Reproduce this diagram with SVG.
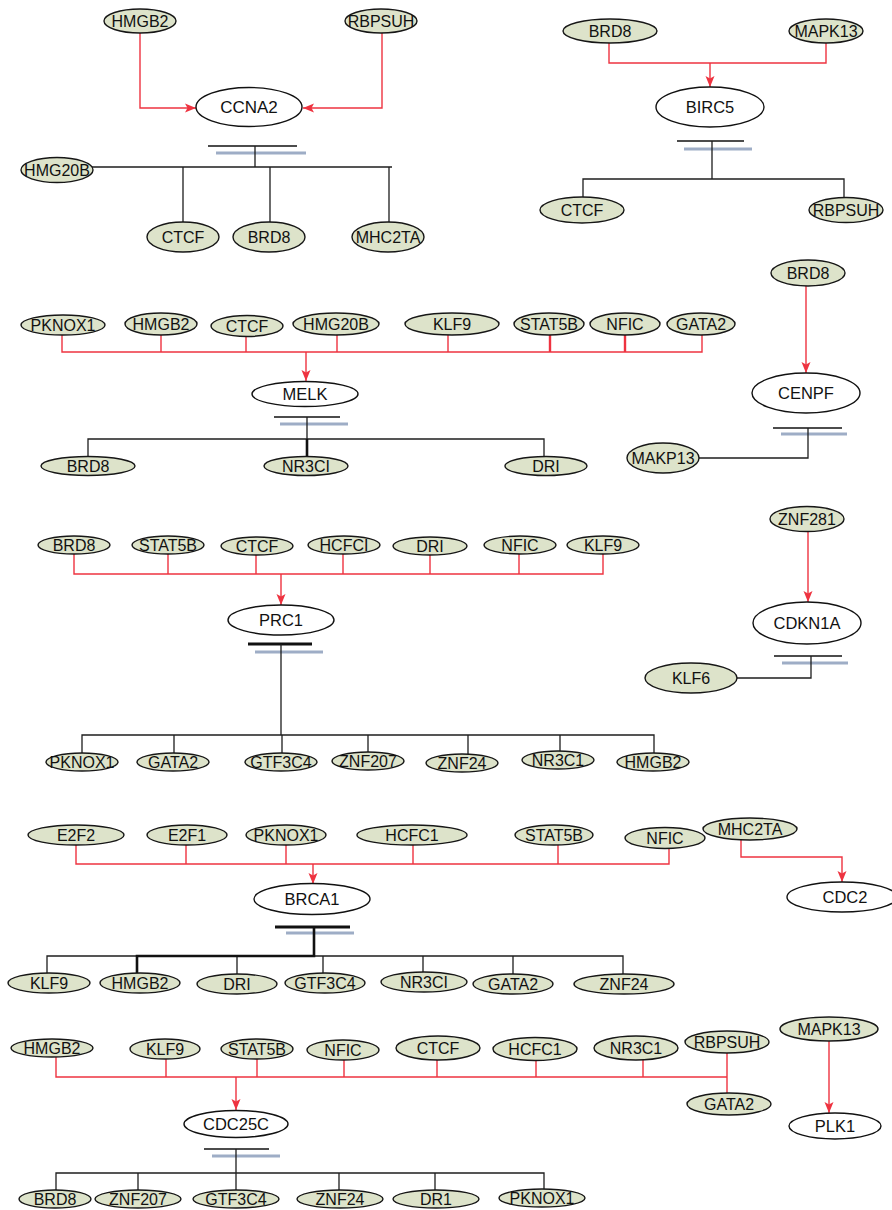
<svg xmlns="http://www.w3.org/2000/svg" width="892" height="1210" viewBox="0 0 892 1210">
  <style>
    .src ellipse { fill: #dde3ca; stroke: #161616; stroke-width: 1.4; }
    .tgt ellipse { fill: #ffffff; stroke: #111111; stroke-width: 1.4; }
    text { font-family: "Liberation Sans", Arial, sans-serif; font-size: 16px; text-anchor: middle; fill: #111111; }
    .tgt text { font-size: 16.5px; }
    .red { stroke: #ee3340; stroke-width: 1.4; fill: none; }
    .red-w { stroke: #ee3340; stroke-width: 2.4; fill: none; }
    .blk { stroke: #1e1e1e; stroke-width: 1.3; fill: none; }
    .blk-w { stroke: #111111; stroke-width: 2.6; fill: none; }
    .bar { stroke: #111111; stroke-width: 1.6; fill: none; }
    .bar-w { stroke: #111111; stroke-width: 3; fill: none; }
    .blue { stroke: #9eadc6; stroke-width: 3; fill: none; }
    .arr { marker-end: url(#arrowhead); }
  </style>
  <defs>
    <marker id="arrowhead" viewBox="0 0 11 10" refX="11" refY="5" markerWidth="11" markerHeight="10" markerUnits="userSpaceOnUse" orient="auto">
      <path d="M0,0.5 L11,5 L0,9.5 L2.5,5 Z" fill="#ee3340"/>
    </marker>
  </defs>
  <rect width="892" height="1210" fill="#ffffff"/>

  <g id="connectors">
    <!-- CCNA2 -->
    <path class="red arr" d="M140,33 V108 H196"/>
    <path class="red arr" d="M382,33 V108 H303"/>
    <path class="bar" d="M208,146 H297"/>
    <path class="blue" d="M216,153 H306"/>
    <path class="blk" d="M255,146 V167 M57,167 H392 M183,167 V222 M270,167 V222 M389,167 V222"/>

    <!-- BIRC5 -->
    <path class="red" d="M609,43 V63 H826 V43"/>
    <path class="red arr" d="M710,63 V87"/>
    <path class="bar" d="M677,141 H744"/>
    <path class="blue" d="M684,149 H752"/>
    <path class="blk" d="M712,141 V179 M583,198 V179 H844 V198"/>

    <!-- MELK -->
    <path class="red" d="M62,335 V352 H702 V335 M161,335 V352 M246,336 V352 M337,335 V352 M448,335 V352"/>
    <path class="red-w" d="M550,335 V352 M625,335 V352"/>
    <path class="red arr" d="M306,352 V381"/>
    <path class="bar" d="M274,417 H340"/>
    <path class="blue" d="M280,424 H348"/>
    <path class="blk" d="M307,417 V439 M88,457 V439 H544 V457"/>
    <path class="blk-w" d="M307,439 V457"/>

    <!-- CENPF -->
    <path class="red arr" d="M806,286 V373"/>
    <path class="bar" d="M773,428 H842"/>
    <path class="blue" d="M781,434 H847"/>
    <path class="blk" d="M808,428 V458 H699"/>

    <!-- PRC1 -->
    <path class="red" d="M74,554 V574 H603 V554 M168,554 V574 M256,555 V574 M343,554 V574 M430,555 V574 M519,554 V574"/>
    <path class="red arr" d="M281,574 V605"/>
    <path class="bar-w" d="M248,644 H312"/>
    <path class="blue" d="M255,652 H323"/>
    <path class="blk" d="M281,644 V735 M82,753 V735 H654 V753 M174,735 V753 M282,735 V753 M368,735 V752 M468,735 V754 M560,735 V751"/>

    <!-- CDKN1A -->
    <path class="red arr" d="M808,531 V602"/>
    <path class="bar" d="M774,656 H842"/>
    <path class="blue" d="M782,663 H848"/>
    <path class="blk" d="M811,656 V678 H737"/>

    <!-- BRCA1 -->
    <path class="red" d="M76,845 V864 H669 V848 M186,845 V864 M286,845 V864 M413,845 V864 M558,845 V864"/>
    <path class="red arr" d="M313,864 V884"/>
    <path class="bar-w" d="M275,927 H350"/>
    <path class="blue" d="M286,933 H354"/>
    <path class="blk" d="M47,974 V956 H623 V974 M237,956 V974 M323,956 V973 M423,956 V972 M513,956 V974"/>
    <path class="blk-w" d="M314,927 V956 H137 V973"/>

    <!-- CDC2 -->
    <path class="red arr" d="M741,840 V857 H842 V882"/>

    <!-- CDC25C -->
    <path class="red" d="M56,1057 V1077 H727 M727,1053 V1093 M166,1059 V1077 M257,1059 V1077 M344,1060 V1077 M437,1060 V1077 M536,1060 V1077 M643,1060 V1077"/>
    <path class="red arr" d="M236,1077 V1110"/>
    <path class="bar" d="M204,1149 H269"/>
    <path class="blue" d="M212,1156 H280"/>
    <path class="blk" d="M236,1149 V1190 M56,1190 V1173 H544 V1190 M138,1173 V1190 M339,1173 V1190 M435,1173 V1190"/>

    <!-- PLK1 -->
    <path class="red arr" d="M829,1041 V1113"/>
  </g>

  <!-- CCNA2 cluster -->
  <g id="ccna2-hmgb2" class="src"><ellipse cx="140" cy="21" rx="36" ry="12"/><text x="140" y="21" dy="0.35em">HMGB2</text></g>
  <g id="ccna2-rbpsuh" class="src"><ellipse cx="381" cy="21" rx="36" ry="12"/><text x="381" y="21" dy="0.35em">RBPSUH</text></g>
  <g id="ccna2" class="tgt"><ellipse cx="249" cy="107" rx="53" ry="19.5"/><text x="249" y="107" dy="0.35em" style="font-size:17px">CCNA2</text></g>
  <g id="ccna2-hmg20b" class="src"><ellipse cx="57" cy="170" rx="36" ry="12.5"/><text x="57" y="170" dy="0.35em">HMG20B</text></g>
  <g id="ccna2-ctcf" class="src"><ellipse cx="183" cy="237" rx="36" ry="15"/><text x="183" y="237" dy="0.35em">CTCF</text></g>
  <g id="ccna2-brd8" class="src"><ellipse cx="269" cy="237" rx="36" ry="15"/><text x="269" y="237" dy="0.35em">BRD8</text></g>
  <g id="ccna2-mhc2ta" class="src"><ellipse cx="388" cy="237" rx="36" ry="15"/><text x="388" y="237" dy="0.35em">MHC2TA</text></g>

  <!-- BIRC5 cluster -->
  <g id="birc5-brd8" class="src"><ellipse cx="610" cy="31" rx="47" ry="12"/><text x="610" y="31" dy="0.35em">BRD8</text></g>
  <g id="birc5-mapk13" class="src"><ellipse cx="826" cy="31" rx="37" ry="12"/><text x="826" y="31" dy="0.35em">MAPK13</text></g>
  <g id="birc5" class="tgt"><ellipse cx="710" cy="107" rx="54" ry="20"/><text x="710" y="107" dy="0.35em">BIRC5</text></g>
  <g id="birc5-ctcf" class="src"><ellipse cx="582" cy="210" rx="42" ry="13"/><text x="582" y="210" dy="0.35em">CTCF</text></g>
  <g id="birc5-rbpsuh" class="src"><ellipse cx="846" cy="210" rx="37" ry="12.5"/><text x="846" y="210" dy="0.35em">RBPSUH</text></g>

  <!-- MELK cluster -->
  <g id="melk-pknox1" class="src"><ellipse cx="63" cy="325" rx="42" ry="10"/><text x="63" y="325" dy="0.35em">PKNOX1</text></g>
  <g id="melk-hmgb2" class="src"><ellipse cx="161" cy="324" rx="36" ry="11"/><text x="161" y="324" dy="0.35em">HMGB2</text></g>
  <g id="melk-ctcf" class="src"><ellipse cx="247" cy="326" rx="36" ry="10.5"/><text x="247" y="326" dy="0.35em">CTCF</text></g>
  <g id="melk-hmg20b" class="src"><ellipse cx="336" cy="324" rx="43" ry="11"/><text x="336" y="324" dy="0.35em">HMG20B</text></g>
  <g id="melk-klf9" class="src"><ellipse cx="452" cy="324" rx="47" ry="11"/><text x="452" y="324" dy="0.35em">KLF9</text></g>
  <g id="melk-stat5b" class="src"><ellipse cx="549" cy="324" rx="35" ry="11"/><text x="549" y="324" dy="0.35em">STAT5B</text></g>
  <g id="melk-nfic" class="src"><ellipse cx="625" cy="324" rx="35" ry="11"/><text x="625" y="324" dy="0.35em">NFIC</text></g>
  <g id="melk-gata2" class="src"><ellipse cx="701" cy="324" rx="34" ry="11"/><text x="701" y="324" dy="0.35em">GATA2</text></g>
  <g id="melk" class="tgt"><ellipse cx="305" cy="394" rx="53" ry="12.5"/><text x="305" y="394" dy="0.35em">MELK</text></g>
  <g id="melk-brd8" class="src"><ellipse cx="88" cy="466" rx="47" ry="9.5"/><text x="88" y="466" dy="0.35em">BRD8</text></g>
  <g id="melk-nr3ci" class="src"><ellipse cx="306" cy="466" rx="42" ry="9.5"/><text x="306" y="466" dy="0.35em">NR3CI</text></g>
  <g id="melk-dri" class="src"><ellipse cx="546" cy="466" rx="41" ry="9.5"/><text x="546" y="466" dy="0.35em">DRI</text></g>

  <!-- CENPF cluster -->
  <g id="cenpf-brd8" class="src"><ellipse cx="808" cy="273" rx="37" ry="13"/><text x="808" y="273" dy="0.35em">BRD8</text></g>
  <g id="cenpf" class="tgt"><ellipse cx="806" cy="393" rx="54" ry="20"/><text x="806" y="393" dy="0.35em">CENPF</text></g>
  <g id="cenpf-makp13" class="src"><ellipse cx="663" cy="458" rx="36" ry="15"/><text x="663" y="458" dy="0.35em">MAKP13</text></g>

  <!-- PRC1 cluster -->
  <g id="prc1-brd8" class="src"><ellipse cx="74" cy="545" rx="36" ry="9"/><text x="74" y="545" dy="0.35em">BRD8</text></g>
  <g id="prc1-stat5b" class="src"><ellipse cx="168" cy="545" rx="36" ry="9"/><text x="168" y="545" dy="0.35em">STAT5B</text></g>
  <g id="prc1-ctcf" class="src"><ellipse cx="257" cy="546" rx="36" ry="9"/><text x="257" y="546" dy="0.35em">CTCF</text></g>
  <g id="prc1-hcfci" class="src"><ellipse cx="344" cy="545" rx="36" ry="9"/><text x="344" y="545" dy="0.35em">HCFCI</text></g>
  <g id="prc1-dri" class="src"><ellipse cx="430" cy="546" rx="37" ry="9"/><text x="430" y="546" dy="0.35em">DRI</text></g>
  <g id="prc1-nfic" class="src"><ellipse cx="520" cy="545" rx="36" ry="9"/><text x="520" y="545" dy="0.35em">NFIC</text></g>
  <g id="prc1-klf9" class="src"><ellipse cx="603" cy="545" rx="36" ry="9"/><text x="603" y="545" dy="0.35em">KLF9</text></g>
  <g id="prc1" class="tgt"><ellipse cx="281" cy="620" rx="53" ry="15"/><text x="281" y="620" dy="0.35em">PRC1</text></g>
  <g id="prc1-pknox1" class="src"><ellipse cx="82" cy="762" rx="36" ry="9"/><text x="82" y="762" dy="0.35em">PKNOX1</text></g>
  <g id="prc1-gata2" class="src"><ellipse cx="173" cy="762" rx="36" ry="9"/><text x="173" y="762" dy="0.35em">GATA2</text></g>
  <g id="prc1-gtf3c4" class="src"><ellipse cx="281" cy="762" rx="36" ry="9"/><text x="281" y="762" dy="0.35em">GTF3C4</text></g>
  <g id="prc1-znf207" class="src"><ellipse cx="368" cy="761" rx="36" ry="9"/><text x="368" y="761" dy="0.35em">ZNF207</text></g>
  <g id="prc1-znf24" class="src"><ellipse cx="462" cy="763" rx="36" ry="9"/><text x="462" y="763" dy="0.35em">ZNF24</text></g>
  <g id="prc1-nr3c1" class="src"><ellipse cx="558" cy="760" rx="36" ry="9"/><text x="558" y="760" dy="0.35em">NR3C1</text></g>
  <g id="prc1-hmgb2" class="src"><ellipse cx="653" cy="762" rx="36" ry="9"/><text x="653" y="762" dy="0.35em">HMGB2</text></g>

  <!-- CDKN1A cluster -->
  <g id="cdkn1a-znf281" class="src"><ellipse cx="807" cy="519" rx="37" ry="12.5"/><text x="807" y="519" dy="0.35em">ZNF281</text></g>
  <g id="cdkn1a" class="tgt"><ellipse cx="807" cy="623" rx="54" ry="21"/><text x="807" y="623" dy="0.35em">CDKN1A</text></g>
  <g id="cdkn1a-klf6" class="src"><ellipse cx="691" cy="678" rx="46" ry="15"/><text x="691" y="678" dy="0.35em">KLF6</text></g>

  <!-- BRCA1 cluster -->
  <g id="brca1-e2f2" class="src"><ellipse cx="76" cy="835" rx="48" ry="10"/><text x="76" y="835" dy="0.35em">E2F2</text></g>
  <g id="brca1-e2f1" class="src"><ellipse cx="187" cy="835" rx="40" ry="10"/><text x="187" y="835" dy="0.35em">E2F1</text></g>
  <g id="brca1-pknox1" class="src"><ellipse cx="286" cy="835" rx="40" ry="10"/><text x="286" y="835" dy="0.35em">PKNOX1</text></g>
  <g id="brca1-hcfc1" class="src"><ellipse cx="412" cy="835" rx="55" ry="10"/><text x="412" y="835" dy="0.35em">HCFC1</text></g>
  <g id="brca1-stat5b" class="src"><ellipse cx="554" cy="835" rx="39" ry="10"/><text x="554" y="835" dy="0.35em">STAT5B</text></g>
  <g id="brca1-nfic" class="src"><ellipse cx="665" cy="838" rx="40" ry="10.5"/><text x="665" y="838" dy="0.35em">NFIC</text></g>
  <g id="brca1" class="tgt"><ellipse cx="312" cy="899" rx="58" ry="15.5"/><text x="312" y="899" dy="0.35em">BRCA1</text></g>
  <g id="brca1-klf9" class="src"><ellipse cx="49" cy="983" rx="41" ry="10"/><text x="49" y="983" dy="0.35em">KLF9</text></g>
  <g id="brca1-hmgb2" class="src"><ellipse cx="140" cy="983" rx="40" ry="10"/><text x="140" y="983" dy="0.35em">HMGB2</text></g>
  <g id="brca1-dri" class="src"><ellipse cx="237" cy="984" rx="40" ry="10"/><text x="237" y="984" dy="0.35em">DRI</text></g>
  <g id="brca1-gtf3c4" class="src"><ellipse cx="325" cy="983" rx="40" ry="10"/><text x="325" y="983" dy="0.35em">GTF3C4</text></g>
  <g id="brca1-nr3ci" class="src"><ellipse cx="424" cy="982" rx="43" ry="10"/><text x="424" y="982" dy="0.35em">NR3CI</text></g>
  <g id="brca1-gata2" class="src"><ellipse cx="513" cy="984" rx="40" ry="10"/><text x="513" y="984" dy="0.35em">GATA2</text></g>
  <g id="brca1-znf24" class="src"><ellipse cx="624" cy="984" rx="50" ry="10"/><text x="624" y="984" dy="0.35em">ZNF24</text></g>

  <!-- CDC2 cluster -->
  <g id="cdc2-mhc2ta" class="src"><ellipse cx="750" cy="829" rx="47" ry="11"/><text x="750" y="829" dy="0.35em">MHC2TA</text></g>
  <g id="cdc2" class="tgt"><ellipse cx="842" cy="897" rx="55" ry="15"/><text x="845" y="897" dy="0.35em">CDC2</text></g>

  <!-- CDC25C cluster -->
  <g id="cdc25c-hmgb2" class="src"><ellipse cx="52" cy="1048" rx="41" ry="9"/><text x="52" y="1048" dy="0.35em">HMGB2</text></g>
  <g id="cdc25c-klf9" class="src"><ellipse cx="165" cy="1049" rx="35" ry="10"/><text x="165" y="1049" dy="0.35em">KLF9</text></g>
  <g id="cdc25c-stat5b" class="src"><ellipse cx="257" cy="1049" rx="36" ry="10"/><text x="257" y="1049" dy="0.35em">STAT5B</text></g>
  <g id="cdc25c-nfic" class="src"><ellipse cx="343" cy="1050" rx="36" ry="10"/><text x="343" y="1050" dy="0.35em">NFIC</text></g>
  <g id="cdc25c-ctcf" class="src"><ellipse cx="438" cy="1048" rx="42" ry="12"/><text x="438" y="1048" dy="0.35em">CTCF</text></g>
  <g id="cdc25c-hcfc1" class="src"><ellipse cx="535" cy="1049" rx="42" ry="11.5"/><text x="535" y="1049" dy="0.35em">HCFC1</text></g>
  <g id="cdc25c-nr3c1" class="src"><ellipse cx="636" cy="1048" rx="42" ry="12"/><text x="636" y="1048" dy="0.35em">NR3C1</text></g>
  <g id="cdc25c-rbpsuh" class="src"><ellipse cx="727" cy="1042" rx="42" ry="11"/><text x="727" y="1042" dy="0.35em">RBPSUH</text></g>
  <g id="cdc25c-gata2" class="src"><ellipse cx="729" cy="1104" rx="42" ry="11"/><text x="729" y="1104" dy="0.35em">GATA2</text></g>
  <g id="cdc25c" class="tgt"><ellipse cx="236" cy="1124" rx="52" ry="13.5"/><text x="236" y="1124" dy="0.35em">CDC25C</text></g>
  <g id="cdc25c-brd8" class="src"><ellipse cx="55" cy="1199" rx="36" ry="9"/><text x="55" y="1199" dy="0.35em">BRD8</text></g>
  <g id="cdc25c-znf207" class="src"><ellipse cx="138" cy="1199" rx="43" ry="9"/><text x="138" y="1199" dy="0.35em">ZNF207</text></g>
  <g id="cdc25c-gtf3c4" class="src"><ellipse cx="236" cy="1199" rx="43" ry="9"/><text x="236" y="1199" dy="0.35em">GTF3C4</text></g>
  <g id="cdc25c-znf24" class="src"><ellipse cx="340" cy="1199" rx="43" ry="9"/><text x="340" y="1199" dy="0.35em">ZNF24</text></g>
  <g id="cdc25c-dr1" class="src"><ellipse cx="436" cy="1199" rx="43" ry="9"/><text x="436" y="1199" dy="0.35em">DR1</text></g>
  <g id="cdc25c-pknox1" class="src"><ellipse cx="542" cy="1198" rx="43" ry="9"/><text x="542" y="1198" dy="0.35em">PKNOX1</text></g>

  <!-- PLK1 cluster -->
  <g id="plk1-mapk13" class="src"><ellipse cx="829" cy="1029" rx="49" ry="12"/><text x="829" y="1029" dy="0.35em">MAPK13</text></g>
  <g id="plk1" class="tgt"><ellipse cx="835" cy="1126" rx="46" ry="13"/><text x="835" y="1126" dy="0.35em">PLK1</text></g>
</svg>
